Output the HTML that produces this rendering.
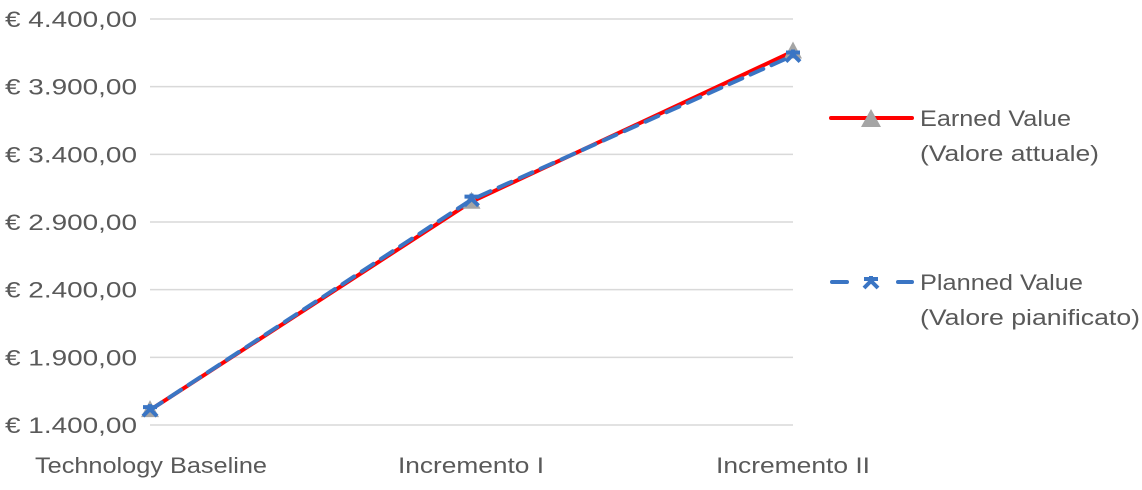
<!DOCTYPE html>
<html><head><meta charset="utf-8"><style>
body{margin:0;background:#fff;width:1142px;height:485px;overflow:hidden}
svg text{font-family:"Liberation Sans",sans-serif;fill:#595959}
</style></head><body>
<svg id="chart" width="1142" height="485" xmlns="http://www.w3.org/2000/svg">
<g id="grid"></g>
<g id="yticks"></g>
<g id="xticks"></g>
<g id="series"></g>
<g>
 <g>
  <line x1="831" y1="118" x2="912" y2="118" stroke="#ff0000" stroke-width="4" stroke-linecap="round"/>
  <polygon points="871,109 881,127 861,127" fill="#a5a5a5"/>
  <text x="920" y="126" font-size="22" textLength="151" lengthAdjust="spacingAndGlyphs">Earned Value</text>
  <text x="920" y="161" font-size="22" textLength="179" lengthAdjust="spacingAndGlyphs">(Valore attuale)</text>
 </g>
 <g>
  <line x1="832" y1="282" x2="847" y2="282" stroke="#3a75c4" stroke-width="4" stroke-linecap="round"/>
  <line x1="898" y1="282" x2="912" y2="282" stroke="#3a75c4" stroke-width="4" stroke-linecap="round"/>
  <path d="M864,288 L871,281 L878,288 M864,279 L878,279 M871,276 L871,284" stroke="#3a75c4" stroke-width="4" fill="none"/>
  <text x="920" y="290" font-size="22" textLength="163" lengthAdjust="spacingAndGlyphs">Planned Value</text>
  <text x="920" y="325" font-size="22" textLength="220" lengthAdjust="spacingAndGlyphs">(Valore pianificato)</text>
 </g>
</g>
</svg>
<script>
const categories=["Technology Baseline","Incremento I","Incremento II"];
const earnedValue=[1510,3050,4160];
const plannedValue=[1510,3065,4130];
const yTicks=[1400,1900,2400,2900,3400,3900,4400];
const tickLabels=["€ 1.400,00","€ 1.900,00","€ 2.400,00","€ 2.900,00","€ 3.400,00","€ 3.900,00","€ 4.400,00"];
const xLabelWidths=[232,146,154];
const NS="http://www.w3.org/2000/svg";
const X0=150,X1=793,Y0=425,Y1=19,YMIN=1400,YMAX=4400;
const xs=i=>X0+(X1-X0)*i/(categories.length-1);
const ys=v=>Y0-(v-YMIN)/(YMAX-YMIN)*(Y0-Y1);
function mk(t,a,p){const e=document.createElementNS(NS,t);for(const k in a)e.setAttribute(k,a[k]);p.appendChild(e);return e;}
const grid=document.getElementById('grid'),yt=document.getElementById('yticks'),xt=document.getElementById('xticks'),ser=document.getElementById('series');
yTicks.forEach((v,i)=>{
 const l=mk('line',{x1:X0,x2:X1,y1:ys(v),y2:ys(v),stroke:'#d9d9d9','stroke-width':1.5},grid);
 
 
 const t=mk('text',{x:5,y:ys(v)+8,'font-size':22,textLength:132,lengthAdjust:'spacingAndGlyphs'},yt);
 t.textContent=tickLabels[i];
 
 
});
categories.forEach((c,i)=>{
 const w=xLabelWidths[i];
 const cx=[151,471,793][i];
 const t=mk('text',{x:cx-w/2,y:473,'font-size':22,textLength:w,lengthAdjust:'spacingAndGlyphs'},xt);
 t.textContent=c;
 
 
});
const ev=mk('polyline',{points:earnedValue.map((v,i)=>xs(i)+','+ys(v)).join(' '),fill:'none',stroke:'#ff0000','stroke-width':4,'stroke-linejoin':'round'},ser);


earnedValue.forEach((v,i)=>{
 const x=xs(i),y=ys(v);
 const p=mk('polygon',{points:`${x},${y-10} ${x+9},${y+7} ${x-9},${y+7}`,fill:'#a5a5a5'},ser);
 
 
});
const pv=mk('polyline',{points:plannedValue.map((v,i)=>xs(i)+','+ys(v)).join(' '),fill:'none',stroke:'#3a75c4','stroke-width':4,'stroke-dasharray':'14,9','stroke-linecap':'round'},ser);


plannedValue.forEach((v,i)=>{
 const x=xs(i),y=ys(v);
 const p=mk('path',{d:`M${x-7},${y+6} L${x},${y-1} L${x+7},${y+6} M${x-7},${y-3} L${x+7},${y-3} M${x},${y-6} L${x},${y+2}`,stroke:'#3a75c4','stroke-width':4,fill:'none'},ser);
 
 
});
</script>
</body></html>
